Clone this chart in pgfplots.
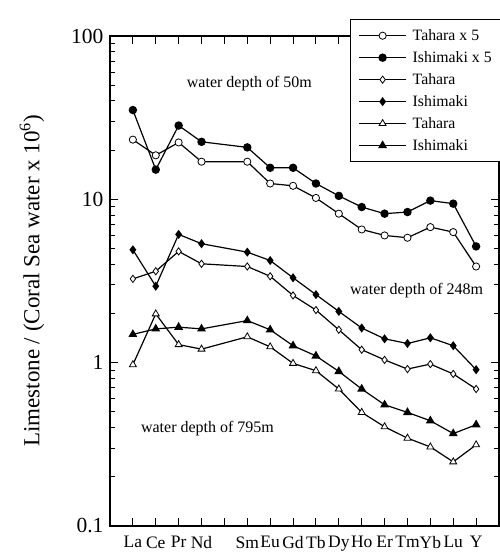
\documentclass[border=0pt]{standalone}
\usepackage{fontspec}
\setmainfont{Liberation Serif}
\usepackage{pgfplots}
\pgfplotsset{compat=1.18}
\newcommand{\legfont}{\rmfamily\fontsize{15.8}{18}\selectfont}
\begin{document}
\begin{tikzpicture}
\begin{axis}[
  name=ax,
  scale only axis, width=389pt, height=490pt,
  ymode=log, ymin=0.1, ymax=100,
  xmin=0, xmax=17,
  xtick={1,...,16},
  xticklabels={La,Ce,Pr,Nd,,Sm,Eu,Gd,Tb,Dy,Ho,Er,Tm,Yb,Lu,Y},
  ytick={0.1,1,10,100},
  yticklabels={0.1,1,10,100},
  /pgf/number format/assume math mode=true,
  tick align=inside,
  major tick length=8pt, minor tick length=5pt,
  every tick/.style={black, line width=1pt},
  axis line style={line width=1.2pt},
  xticklabel style={font=\fontsize{17.5}{20}\selectfont, yshift=-7pt},
  yticklabel style={font=\fontsize{21.5}{24}\selectfont, xshift=-3pt},
  ylabel={Limestone / (Coral Sea water x 10\textsuperscript{6})},
  ylabel style={font=\fontsize{23}{26}\selectfont, at={(axis description cs:-0.2005,0.5)}, anchor=center},
  legend style={at={(rel axis cs:0.617,1.0347)}, anchor=north west, draw=black, line width=1pt,
    nodes={font=\legfont}, row sep=5.5pt, inner xsep=8pt, inner ysep=8pt,
    /tikz/every odd column/.append style={column sep=4pt}},
  legend cell align=left,
  legend image code/.code={\draw[mark repeat=2,mark phase=2,#1] plot coordinates {(0pt,0pt) (23.5pt,0pt) (47pt,0pt)};},
]
% Tahara x 5
\addplot[black, line width=1.2pt, mark size=3.6pt, mark=*, mark options={fill=white, line width=0.8pt}] coordinates {
(1,23.2) (2,18.6) (3,22.3) (4,17.0) (6,17.0) (7,12.5) (8,12.1) (9,10.2) (10,8.17) (11,6.54) (12,6.01) (13,5.82) (14,6.76) (15,6.30) (16,3.88)};
\addlegendentry{\legfont Tahara x 5}
% Ishimaki x 5
\addplot[black, line width=1.2pt, mark size=3.6pt, mark=*, mark options={fill=black}] coordinates {
(1,35.2) (2,15.2) (3,28.3) (4,22.5) (6,20.8) (7,15.6) (8,15.6) (9,12.5) (10,10.5) (11,8.97) (12,8.17) (13,8.36) (14,9.82) (15,9.41) (16,5.15)};
\addlegendentry{\legfont Ishimaki x 5}
% Tahara
\addplot[black, line width=1.2pt, mark size=3.6pt, mark=diamond*, mark options={fill=white, line width=0.8pt}] coordinates {
(1,3.26) (2,3.63) (3,4.80) (4,4.03) (6,3.88) (7,3.38) (8,2.58) (9,2.10) (10,1.59) (11,1.20) (12,1.04) (13,0.914) (14,0.98) (15,0.853) (16,0.69)};
\addlegendentry{\legfont Tahara}
% Ishimaki
\addplot[black, line width=1.2pt, mark size=3.6pt, mark=diamond*, mark options={fill=black}] coordinates {
(1,4.91) (2,2.94) (3,6.10) (4,5.35) (6,4.75) (7,4.22) (8,3.31) (9,2.61) (10,2.06) (11,1.63) (12,1.40) (13,1.31) (14,1.42) (15,1.27) (16,0.906)};
\addlegendentry{\legfont Ishimaki}
% Tahara
\addplot[black, line width=1.2pt, mark size=4pt, mark=triangle*, mark options={fill=white, line width=0.8pt}] coordinates {
(1,0.972) (2,1.99) (3,1.29) (4,1.21) (6,1.44) (7,1.25) (8,0.99) (9,0.893) (10,0.69) (11,0.496) (12,0.405) (13,0.345) (14,0.305) (15,0.247) (16,0.314)};
\addlegendentry{\legfont Tahara}
% Ishimaki
\addplot[black, line width=1.2pt, mark size=4pt, mark=triangle*, mark options={fill=black}] coordinates {
(1,1.49) (2,1.61) (3,1.65) (4,1.61) (6,1.81) (7,1.59) (8,1.27) (9,1.10) (10,0.884) (11,0.69) (12,0.552) (13,0.496) (14,0.441) (15,0.368) (16,0.417)};
\addlegendentry{\legfont Ishimaki}
\node[font=\fontsize{16}{18}\selectfont] at (axis cs:6.09,50.8) {water depth of 50m};
\node[font=\fontsize{16}{18}\selectfont] at (axis cs:13.4,2.77) {water depth of 248m};
\node[font=\fontsize{16}{18}\selectfont] at (axis cs:4.26,0.394) {water depth of 795m};
\end{axis}
\pgfresetboundingbox
\path (ax.south west) ++(-110pt,-31pt) rectangle ++(500pt,557pt);
\end{tikzpicture}
\end{document}
